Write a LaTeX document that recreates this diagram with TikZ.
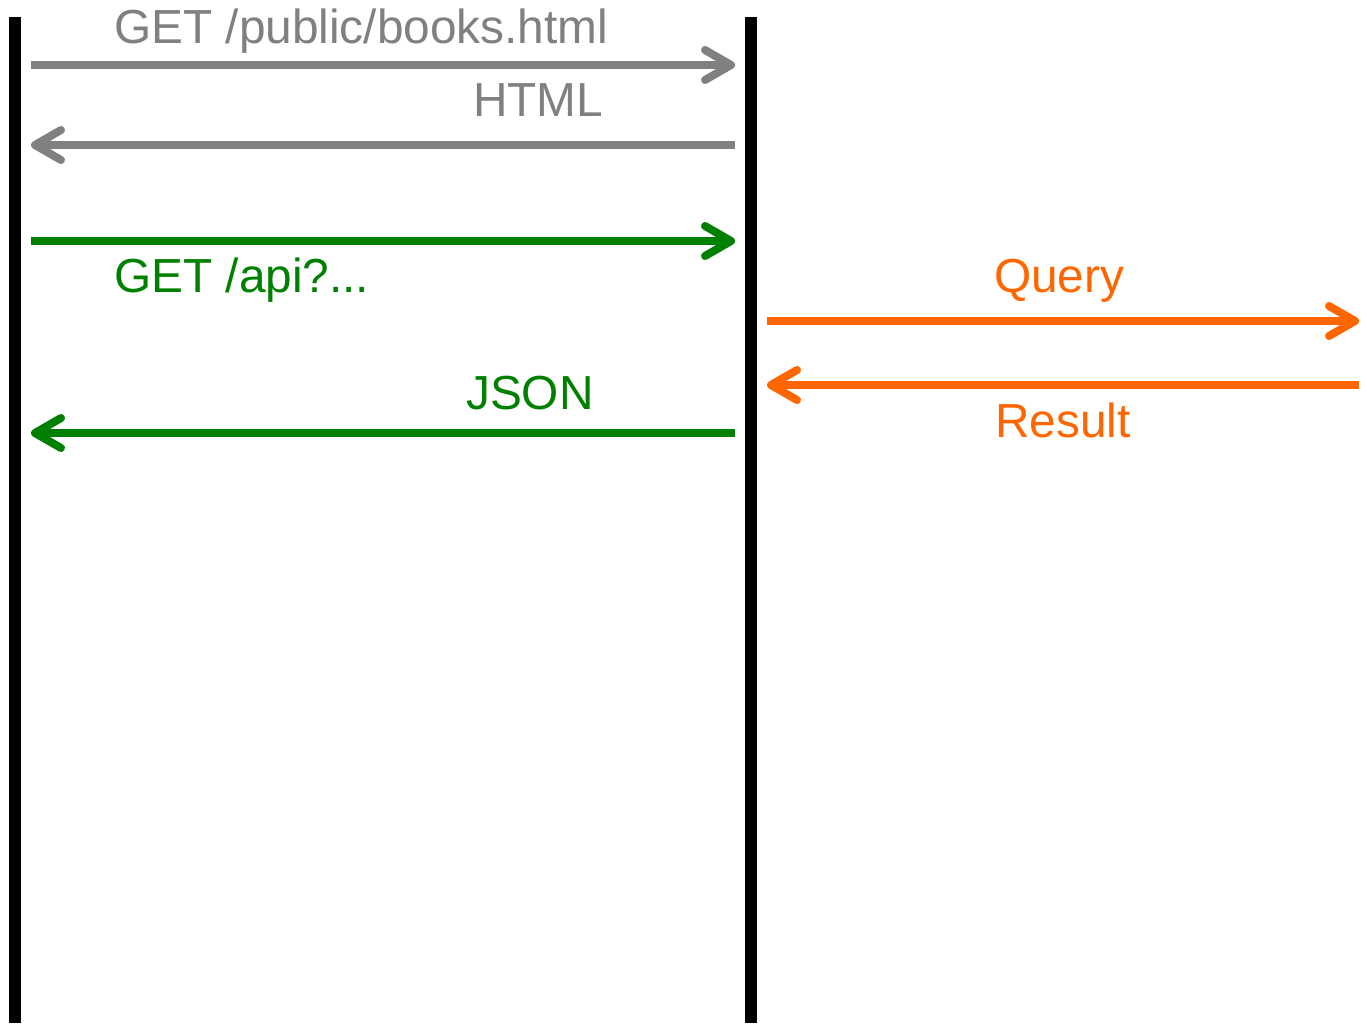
\documentclass[tikz,border=0pt]{standalone}
\usepackage{fontspec}
\setmainfont{Liberation Sans}
\usetikzlibrary{arrows.meta}
\definecolor{cgray}{HTML}{808080}
\definecolor{cgreen}{HTML}{008000}
\definecolor{corange}{HTML}{FF6600}
\begin{document}
\begin{tikzpicture}[x=1pt,y=-1pt,
  lifeline/.style={line width=12pt,black},
  msg/.style={line width=8pt,-{Straight Barb[length=26pt,width=30pt,line cap=round,line join=round]}},
  lbl/.style={anchor=base west,inner sep=0pt,font=\fontsize{47.8}{57}\selectfont}]
\useasboundingbox (0,0) rectangle (1367,1023);
% lifelines
\coordinate (l1t) at (15,17); \coordinate (l1b) at (15,1023);
\coordinate (l2t) at (751,17); \coordinate (l2b) at (751,1023);
\draw[lifeline] (l1t) -- (l1b);
\draw[lifeline] (l2t) -- (l2b);
% endpoints
\coordinate (a1s) at (31,65);  \coordinate (a1e) at (735,65);
\coordinate (a2s) at (735,145); \coordinate (a2e) at (31,145);
\coordinate (a3s) at (31,241);  \coordinate (a3e) at (735,241);
\coordinate (a4s) at (735,433); \coordinate (a4e) at (31,433);
\coordinate (a5s) at (767,321); \coordinate (a5e) at (1359,321);
\coordinate (a6s) at (1359,385); \coordinate (a6e) at (767,385);
\draw[msg,cgray] (a1s) -- (a1e);
\draw[msg,cgray] (a2s) -- (a2e);
\draw[msg,cgreen] (a3s) -- (a3e);
\draw[msg,cgreen] (a4s) -- (a4e);
\draw[msg,corange] (a5s) -- (a5e);
\draw[msg,corange] (a6s) -- (a6e);
% labels
\node[lbl,text=cgray] (t1) at (114,43) {GET /public/books.html};
\node[lbl,text=cgray] (t2) at (473,116) {HTML};
\node[lbl,text=cgreen] (t3) at (114,292) {GET /api?...};
\node[lbl,text=cgreen] (t4) at (466,409) {JSON};
\node[lbl,text=corange] (t5) at (994,292) {Query};
\node[lbl,text=corange] (t6) at (995,437) {Result};
\end{tikzpicture}
\end{document}
